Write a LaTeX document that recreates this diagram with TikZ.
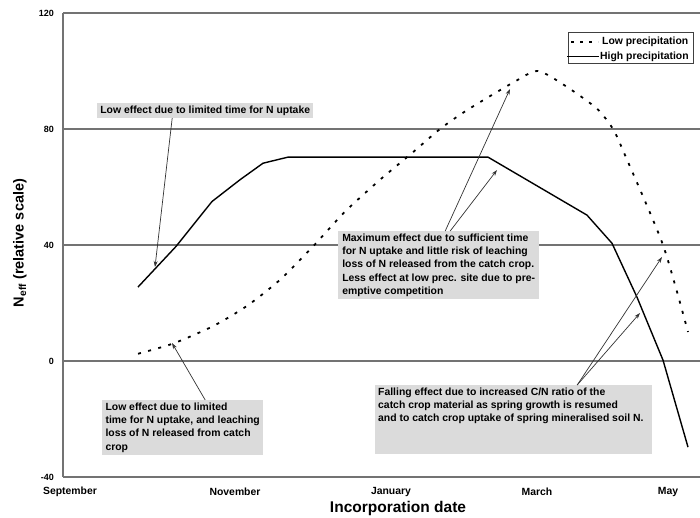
\documentclass[tikz,border=0pt]{standalone}
\usepackage{fontspec}
\setmainfont{Liberation Sans}
\usetikzlibrary{arrows.meta}
\definecolor{gridgray}{gray}{0.45}
\definecolor{notegray}{gray}{0.86}
\definecolor{pointergray}{gray}{0.2}

\begin{document}
\begin{tikzpicture}[x=1pt, y=-1pt]
	\tikzstyle{every node}+=[inner sep=0pt]
	\tikzstyle{note}=[fill=notegray, anchor=north west, align=left, inner xsep=3pt, inner ysep=2.5pt, font=\bfseries\fontsize{10.4}{13.3}\selectfont]
	\tikzstyle{pointer}=[pointergray, line width=0.7pt, -{Stealth[length=6pt, width=4pt]}]
	\tikzstyle{lowprec}=[black, line width=1.8pt, dash pattern=on 3pt off 7.5pt]
	\tikzstyle{highprec}=[black, line width=1.4pt, line join=round]
	\tikzstyle{ticklabel}=[anchor=east, font=\bfseries\fontsize{9}{10}\selectfont]
	\tikzstyle{monthlabel}=[font=\bfseries\fontsize{10.4}{12}\selectfont]
	\tikzstyle{legendtext}=[anchor=west, font=\bfseries\fontsize{10.4}{12}\selectfont]
	\useasboundingbox (0,0) rectangle (700,518);
	\draw [gridgray, line width=1.3pt] (63,13) -- (63,477);
	\foreach \yy/\val/\lw in {13/120/1.6, 129/80/1.1, 245/40/1.1, 361/0/1.6, 477/-40/1.6} {
		\draw [gridgray, line width=\lw pt] (63,\yy) -- (700,\yy);
		\node [ticklabel] (tick\val) at (54,\yy) {\val};
	}
	\foreach \xx/\mon in {70/September, 235/November, 391/January, 537/March, 668/May}
		\node [monthlabel] (\mon) at (\xx,492) {\mon};
	\node [font=\bfseries\fontsize{15.5}{17}\selectfont] (xtitle) at (398,508) {Incorporation date};
	\node [rotate=90, font=\bfseries\fontsize{14.5}{16}\selectfont] (ytitle) at (20,243) {N\textsubscript{eff} (relative scale)};
	\begin{scope}[shift={(0,361)}, y=2.9pt]
		\draw [lowprec] plot [smooth, tension=0.4] coordinates {(138,2.5) (173,6) (213,12) (247,19) (280,28) (313,39.5) (345,51.5) (380,62.5) (413,72) (440,80) (467,86.5) (513,96) (538,100) (567,94.5) (597,87) (613,80) (625,71) (663,40) (688,10)};
		\draw [highprec] (138,25.5) -- (176,39.5) -- (212,55) -- (240,62.5) -- (263,68.2) -- (288,70.3) -- (488,70.3) -- (587,50.3) -- (612,40.6) -- (637,22) -- (663,0.3) -- (688,-29.7);
	\end{scope}
	\coordinate (solidearly) at (155,267);
	\coordinate (dottedpeak) at (510,89);
	\coordinate (solidknee) at (497,170);
	\coordinate (dottedlate) at (662,257);
	\coordinate (solidlate) at (640,313);
	\coordinate (dottedearly) at (172,343);
	\node [note, minimum width=216pt] (limitnote) at (97,103) {Low effect due to limited time for N uptake};
	\node [note, minimum width=201pt] (maxnote) at (338,231) {Maximum effect due to sufficient time\\for N uptake and little risk of leaching\\loss of N released from the catch crop.\\Less effect at low prec. site due to pre-\\emptive competition};
	\node [note, minimum width=277pt] (fallnote) at (375,385) {\parbox[t][64pt][t]{271pt}{Falling effect due to increased C/N ratio of the\\catch crop material as spring growth is resumed\\and to catch crop uptake of spring mineralised soil N.}};
	\node [note, minimum width=161pt] (leachnote) at (102,400) {Low effect due to limited\\time for N uptake, and leaching\\loss of N released from catch\\crop};
	\draw [pointer] ([xshift=-33pt]limitnote.south) -- (solidearly);
	\draw [pointer] ([xshift=6.5pt]maxnote.north) -- (dottedpeak);
	\draw [pointer] ([xshift=11.5pt]maxnote.north) -- (solidknee);
	\draw [pointer] ([xshift=63.5pt]fallnote.north) -- (dottedlate);
	\draw [pointer] ([xshift=63.5pt]fallnote.north) -- (solidlate);
	\draw [pointer] ([xshift=22.5pt]leachnote.north) -- (dottedearly);
	\node [draw=black!75, line width=0.8pt, fill=white, minimum width=125pt, minimum height=31pt, anchor=north west] (legend) at (568,32) {};
	\node [legendtext] (lowlabel) at (602,42) {Low precipitation};
	\node [legendtext] (highlabel) at (600,57) {High precipitation};
	\draw [lowprec, dash pattern=on 3pt off 6pt] ([xshift=-31pt]lowlabel.west) -- ([xshift=-4pt]lowlabel.west);
	\draw [highprec, line width=1pt] ([xshift=-33pt]highlabel.west) -- ([xshift=-1pt]highlabel.west);
\end{tikzpicture}
\end{document}
